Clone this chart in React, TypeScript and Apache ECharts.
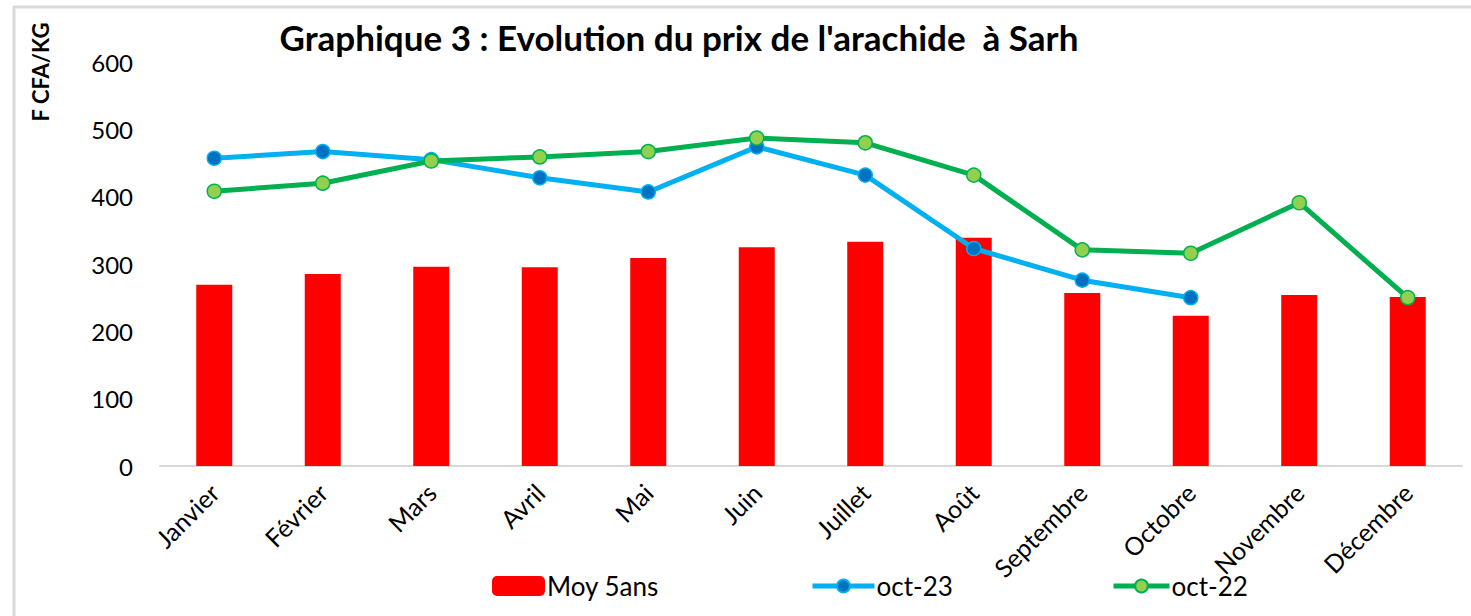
import React, { useEffect, useRef } from "react";
import * as echarts from "echarts";

const months = ["Janvier", "Février", "Mars", "Avril", "Mai", "Juin", "Juillet", "Août", "Septembre", "Octobre", "Novembre", "Décembre"];
const moy5ans = [269, 285, 296, 295, 309, 325, 333, 339, 257, 223, 254, 251];
const oct23: (number | null)[] = [457, 467, 455, 428, 407, 474, 432, 323, 276, 250, null, null];
const oct22 = [408, 420, 453, 459, 467, 487, 480, 432, 321, 316, 391, 250];
const yTicks = { min: 0, max: 600, interval: 100 };

const FONT = "Lato, 'Open Sans', sans-serif";

export default function App() {
  const ref = useRef<HTMLDivElement>(null);
  useEffect(() => {
    if (!ref.current) return;
    const chart = echarts.init(ref.current, null, { renderer: "svg" });
    const legendText = { fontSize: 26, color: "#000", fontFamily: FONT, padding: [0, 0, 0, -3] };
    chart.setOption({
      animation: false,
      backgroundColor: "#ffffff",
      textStyle: { fontFamily: FONT },
      title: {
        text: "Graphique 3 : Evolution du prix de l'arachide  à Sarh",
        left: 674,
        textAlign: "center",
        top: 14,
        textStyle: { fontFamily: FONT, fontSize: 35, fontWeight: "bold", color: "#000" },
      },
      graphic: [
        {
          type: "rect",
          shape: { x: 14, y: 7, width: 1600, height: 800 },
          style: { fill: "none", stroke: "#d9d9d9", lineWidth: 3 },
          silent: true,
        },
        {
          type: "text",
          x: 40,
          y: 72,
          rotation: Math.PI / 2,
          style: {
            text: "F CFA/KG",
            font: `bold 22px ${FONT}`,
            fill: "#000",
            align: "center",
            verticalAlign: "middle",
          },
        },
      ],
      legend: [
        {
          data: ["Moy 5ans"],
          left: 487,
          top: 568,
          itemWidth: 53,
          itemHeight: 20,
          itemGap: 0,
          textStyle: legendText,
        },
        {
          data: ["oct-23"],
          left: 805,
          top: 568,
          itemWidth: 62,
          itemHeight: 16,
          lineStyle: { width: 5 },
          textStyle: legendText,
        },
        {
          data: ["oct-22"],
          left: 1106,
          top: 568,
          itemWidth: 56,
          itemHeight: 16,
          lineStyle: { width: 5 },
          textStyle: legendText,
        },
      ],
      grid: { left: 160, right: 9, top: 62, bottom: 150, containLabel: false },
      xAxis: {
        type: "category",
        data: months,
        axisLine: { lineStyle: { color: "#d9d9d9", width: 2 } },
        axisTick: { show: false },
        axisLabel: { rotate: 45, fontSize: 25, color: "#000", margin: 22, fontFamily: FONT, interval: 0 },
      },
      yAxis: {
        type: "value",
        min: yTicks.min,
        max: yTicks.max,
        interval: yTicks.interval,
        splitLine: { show: false },
        axisLine: { show: false },
        axisTick: { show: false },
        axisLabel: { fontSize: 24, color: "#000", margin: 27, fontFamily: FONT },
      },
      series: [
        {
          name: "Moy 5ans",
          type: "bar",
          data: moy5ans,
          barWidth: 36,
          itemStyle: { color: "#ff0000" },
        },
        {
          name: "oct-23",
          type: "line",
          data: oct23,
          symbol: "circle",
          symbolSize: 14,
          lineStyle: { color: "#00b0f0", width: 5 },
          itemStyle: { color: "#0070c0", borderColor: "#00b0f0", borderWidth: 1.5 },
        },
        {
          name: "oct-22",
          type: "line",
          data: oct22,
          symbol: "circle",
          symbolSize: 14,
          lineStyle: { color: "#00b050", width: 5 },
          itemStyle: { color: "#92d050", borderColor: "#00b050", borderWidth: 1.5 },
        },
      ],
    });
    return () => chart.dispose();
  }, []);
  return (
    <div
      ref={ref}
      style={{ position: "absolute", left: 0, top: 0, width: 1471, height: 616 }}
    />
  );
}
